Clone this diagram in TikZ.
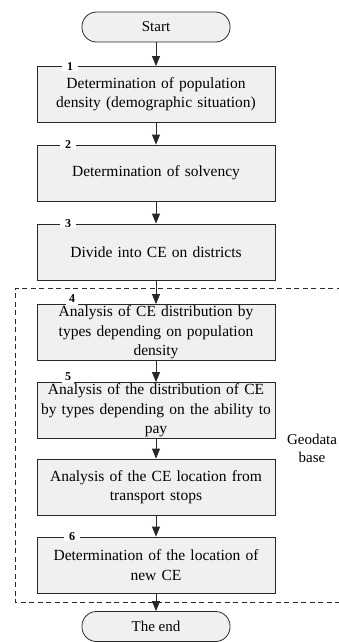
\documentclass[tikz,border=0pt]{standalone}
\usepackage{fontspec}
\setmainfont{Liberation Serif}
\usetikzlibrary{arrows.meta}
\definecolor{boxfill}{RGB}{240,240,240}
\definecolor{linec}{RGB}{40,40,40}
\tikzset{
  stepbox/.style={draw=linec, line width=0.8pt, fill=boxfill, rectangle,
    minimum width=238pt, minimum height=56pt, inner sep=0pt,
    text width=234pt, align=center, font=\fontsize{15.5}{19.3}\selectfont},
  termbox/.style={draw=linec, line width=0.8pt, fill=boxfill, rectangle,
    rounded corners=14.5pt, minimum width=148pt, minimum height=30pt,
    inner sep=0pt, font=\fontsize{15}{18}\selectfont},
  numlbl/.style={fill=white, inner xsep=5pt, inner ysep=0.5pt,
    font=\fontsize{12}{12}\selectfont\bfseries},
  numup/.style={numlbl, anchor=south, inner ysep=0pt, fill=none},
  flow/.style={draw=linec, line width=0.8pt, -{Triangle[width=8pt,length=10pt]}},
  geobox/.style={draw=linec, line width=0.8pt, dash pattern=on 5pt off 3.5pt}
}
\begin{document}
\begin{tikzpicture}[x=1pt,y=-1pt]
\useasboundingbox (0,0) rectangle (339,642);
% dashed geodata frame
\draw[geobox] (350,288) -- (15,288) -- (15,602) -- (350,602);
\node[align=center, font=\fontsize{15}{18}\selectfont] (geo) at (312,448) {Geodata\\base};

\node[termbox] (start) at (156,27) {Start};
\node[stepbox] (b1) at (156,94.5) {Determination of population\\density (demographic situation)};
\node[stepbox] (b2) at (156,173) {Determination of solvency};
\node[stepbox] (b3) at (156,252) {Divide into CE on districts};
\node[stepbox] (b4) at (156,332.5) {Analysis of CE distribution by\\types depending on population\\density};
\node[stepbox] (b5) at (156,410.5) {Analysis of the distribution of CE\\by types depending on the ability to\\pay};
\node[stepbox] (b6) at (156,487) {Analysis of the CE location from\\transport stops};
\node[stepbox] (b7) at (156,565) {Determination of the location of\\new CE};
\node[termbox] (end) at (156,626.5) {The end};

\node[numlbl] (n1) at (b1.north -| 70,0) {1};
\node[numlbl] (n2) at (b2.north -| 68,0) {2};
\node[numlbl] (n3) at (b3.north -| 68,0) {3};
\fill[white] ([xshift=-6pt,yshift=-0.6pt]b4.north -| 72,0) rectangle ([xshift=6pt,yshift=0.6pt]b4.north -| 72,0);
\fill[white] ([xshift=-6pt,yshift=-0.6pt]b5.north -| 68,0) rectangle ([xshift=6pt,yshift=0.6pt]b5.north -| 68,0);
\node[numup] (n4) at ([yshift=1pt]b4.north -| 72,0) {4};
\node[numup] (n5) at ([yshift=1pt]b5.north -| 68,0) {5};
\node[numlbl] (n6) at (b7.north -| 72,0) {6};

\draw[flow] (start) -- (b1);
\draw[flow] (b1) -- (b2);
\draw[flow] (b2) -- (b3);
\draw[flow] (b3) -- (b4);
\draw[flow] (b4) -- (b5);
\draw[flow] (b5) -- (b6);
\draw[flow] (b6) -- (b7);
\draw[flow] (b7) -- (end);
\end{tikzpicture}
\end{document}
